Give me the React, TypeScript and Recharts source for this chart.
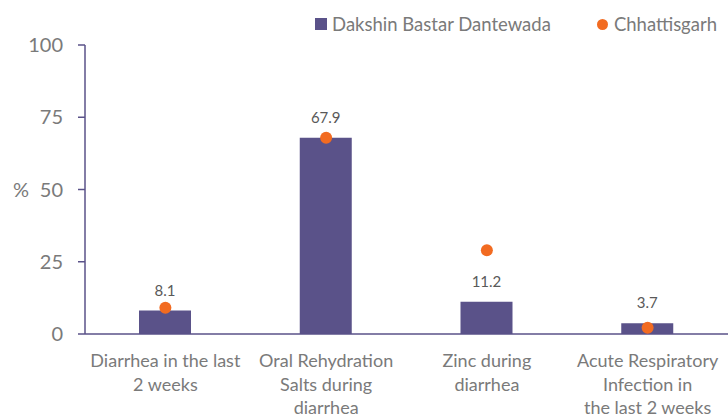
import React from 'react';
import { ComposedChart, Bar, Scatter, XAxis, YAxis, LabelList } from 'recharts';

const categories = [
  'Diarrhea in the last\n2 weeks',
  'Oral Rehydration\nSalts during\ndiarrhea',
  'Zinc during\ndiarrhea',
  'Acute Respiratory\nInfection in\nthe last 2 weeks',
];
const districtValues = [8.1, 67.9, 11.2, 3.7];
const stateValues = [9.1, 67.9, 29.0, 2.2];
const yTicks = [0, 25, 50, 75, 100];
const seriesNames = ['Dakshin Bastar Dantewada', 'Chhattisgarh'];

const data = categories.map((name, i) => ({
  name,
  district: districtValues[i],
  state: stateValues[i],
}));

const PURPLE = '#5a5289';
const ORANGE = '#f26b21';
const AXIS_TEXT = '#7a7a7a';
const FONT = 'Lato, "Open Sans", sans-serif';

const CategoryTick = (props: any) => {
  const { x, y, payload } = props;
  const lines = String(payload.value).split('\n');
  return (
    <text x={x} y={y} textAnchor="middle" fill={AXIS_TEXT} fontSize={18} fontFamily={FONT}>
      {lines.map((line, i) => (
        <tspan key={i} x={x} dy={i === 0 ? 25 : 23.5}>
          {line}
        </tspan>
      ))}
    </text>
  );
};

const Dot = (props: any) => <circle cx={props.cx} cy={props.cy} r={6} fill={ORANGE} />;

const ChartLegend = () => (
  <div
    style={{
      position: 'absolute',
      top: 14,
      right: 11,
      display: 'flex',
      alignItems: 'center',
      height: 20,
      fontFamily: FONT,
      fontSize: 18.5,
      color: AXIS_TEXT,
      whiteSpace: 'nowrap',
    }}
  >
    <span style={{ display: 'inline-block', width: 12, height: 12, background: PURPLE, marginRight: 5 }} />
    <span style={{ marginRight: 46 }}>{seriesNames[0]}</span>
    <span style={{ display: 'inline-block', width: 11, height: 11, borderRadius: 6, background: ORANGE, marginRight: 6 }} />
    <span>{seriesNames[1]}</span>
  </div>
);

export default function App() {
  return (
    <div style={{ position: 'absolute', left: 0, top: 0, width: 728, height: 419, background: '#fff' }}>
      <ComposedChart width={728} height={419} data={data} margin={{ top: 45, right: 0, bottom: 0, left: 0 }}>
        <XAxis
          dataKey="name"
          height={85}
          tickLine={false}
          axisLine={{ stroke: PURPLE, strokeWidth: 1.5 }}
          tick={<CategoryTick />}
          interval={0}
        />
        <YAxis
          width={85}
          domain={[0, 100]}
          ticks={yTicks}
          tickSize={7}
          tickMargin={15}
          axisLine={{ stroke: PURPLE, strokeWidth: 1.5 }}
          tickLine={{ stroke: PURPLE, strokeWidth: 1.5 }}
          tick={{ fill: AXIS_TEXT, fontSize: 20, fontFamily: FONT }}
          label={{ value: '%', position: 'insideLeft', offset: 13, fill: AXIS_TEXT, fontSize: 20, fontFamily: FONT }}
        />
        <Bar dataKey="district" name={seriesNames[0]} fill={PURPLE} barSize={52} isAnimationActive={false}>
          <LabelList dataKey="district" position="top" offset={15} fill="#595959" fontSize={15} fontFamily={FONT} />
        </Bar>
        <Scatter dataKey="state" name={seriesNames[1]} fill={ORANGE} shape={<Dot />} isAnimationActive={false} />
      </ComposedChart>
      <ChartLegend />
    </div>
  );
}
